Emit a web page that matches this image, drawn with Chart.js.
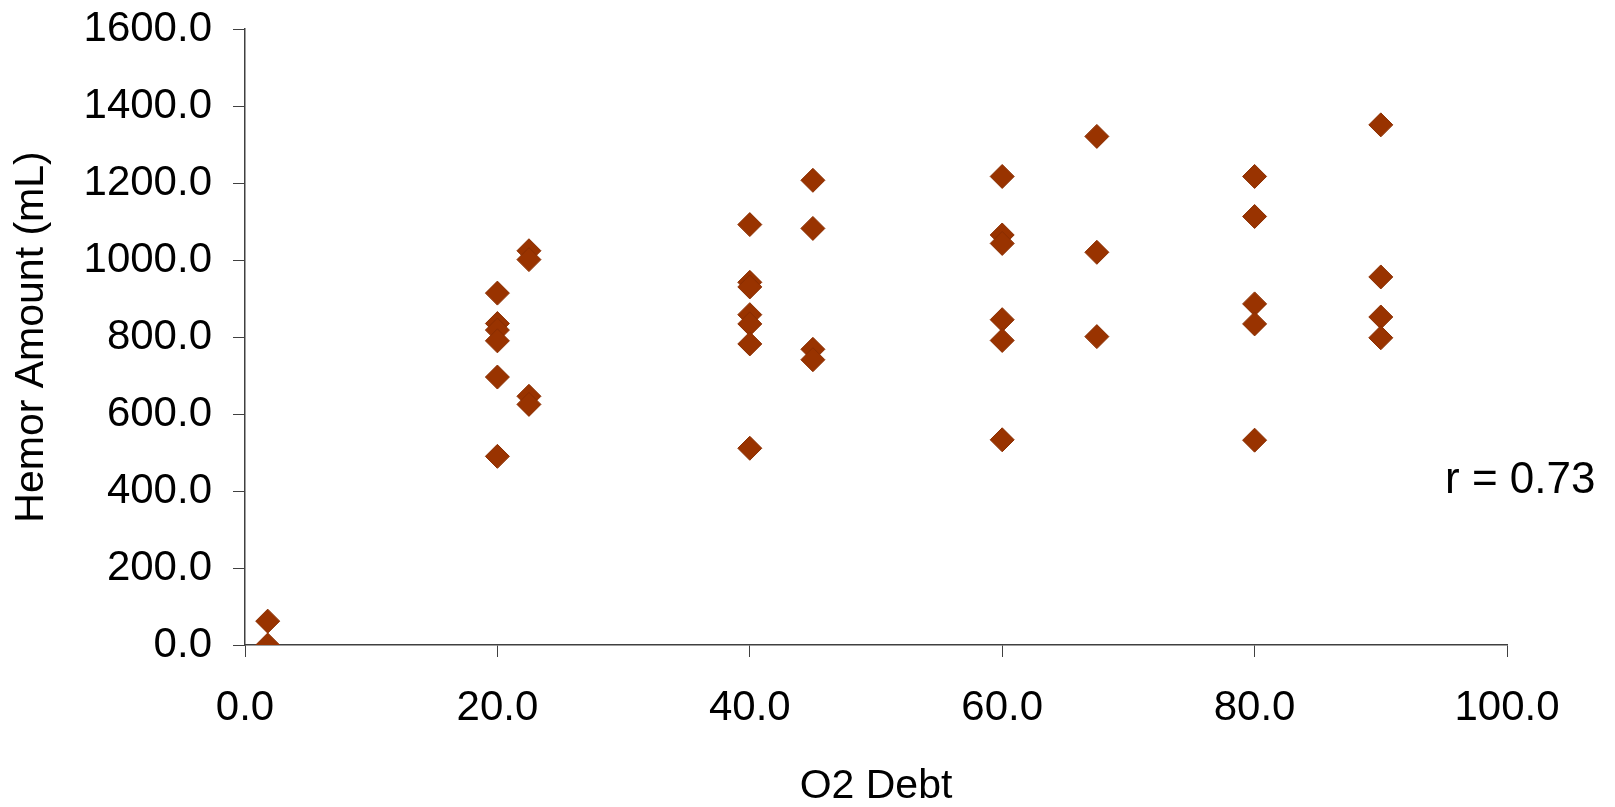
<!DOCTYPE html>
<html>
<head>
<meta charset="utf-8">
<script src="https://cdn.jsdelivr.net/npm/chart.js@4.4.1/dist/chart.umd.min.js"></script>
<style>
  html, body { margin: 0; padding: 0; background: #ffffff; }
  #wrap { width: 1615px; height: 807px; position: relative; }
</style>
</head>
<body>
<div id="wrap"><canvas id="c" width="1615" height="807"></canvas></div>
<script>
// O2 Debt (x) values and matching Hemor Amount (mL) values
const o2Debt = [
  1.8, 1.8,
  20, 20, 20, 20, 20, 20,
  22.5, 22.5, 22.5, 22.5,
  40, 40, 40, 40, 40, 40, 40,
  45, 45, 45, 45,
  60, 60, 60, 60, 60, 60,
  67.5, 67.5, 67.5,
  80, 80, 80, 80, 80,
  90, 90, 90, 90
];
const hemorAmount = [
  62, 0,
  914, 835, 818, 790, 696, 490,
  1024, 1001, 646, 625,
  1092, 942, 930, 858, 834, 782, 511,
  1207, 1082, 768, 741,
  1217, 1065, 1043, 845, 791, 533,
  1321, 1020, 801,
  1217, 1113, 886, 834, 532,
  1351, 956, 852, 798
];
const xTicks = [0, 20, 40, 60, 80, 100];
const yTicks = [0, 200, 400, 600, 800, 1000, 1200, 1400, 1600];
const xTitle = 'O2 Debt';
const yTitle = 'Hemor Amount (mL)';
const annotationText = 'r = 0.73';

const points = o2Debt.map((x, i) => ({ x: x, y: hemorAmount[i] }));

const FONT = "'Liberation Sans', Arial, Helvetica, sans-serif";
const AXIS_COLOR = '#404040';

const rLabel = {
  id: 'rLabel',
  afterDraw(chart) {
    const ctx = chart.ctx;
    ctx.save();
    ctx.font = "44px " + FONT;
    ctx.fillStyle = '#000000';
    ctx.textAlign = 'left';
    ctx.textBaseline = 'alphabetic';
    ctx.fillText(annotationText, 1445, 493);
    ctx.restore();
  }
};

new Chart(document.getElementById('c'), {
  type: 'scatter',
  data: {
    datasets: [{
      data: points,
      pointStyle: 'rectRot',
      pointRadius: 12,
      pointHoverRadius: 12,
      backgroundColor: '#993300',
      borderColor: '#8a2e00',
      borderWidth: 1
    }]
  },
  options: {
    responsive: false,
    animation: false,
    devicePixelRatio: 1,
    layout: { padding: { top: 29, right: 108, bottom: 0, left: 0 } },
    plugins: {
      legend: { display: false },
      tooltip: { enabled: false }
    },
    scales: {
      x: {
        type: 'linear',
        min: 0, max: 100,
        afterBuildTicks(scale) { scale.ticks = xTicks.map(v => ({ value: v })); },
        afterFit(scale) { scale.height = 162; },
        border: { display: true, color: AXIS_COLOR, width: 1.5 },
        grid: { display: true, drawOnChartArea: false, drawTicks: true, tickLength: 12, color: AXIS_COLOR, lineWidth: 1 },
        ticks: {
          color: '#000000',
          font: { family: FONT, size: 42 },
          padding: 26,
          maxRotation: 0,
          callback: v => Number(v).toFixed(1)
        },
        title: {
          display: true,
          text: xTitle,
          color: '#000000',
          font: { family: FONT, size: 41, lineHeight: 1 },
          padding: { top: 0, bottom: 0 }
        }
      },
      y: {
        type: 'linear',
        min: 0, max: 1600,
        afterBuildTicks(scale) { scale.ticks = yTicks.map(v => ({ value: v })); },
        afterFit(scale) { scale.width = 245; scale.paddingTop = 0; scale.paddingBottom = 0; },
        border: { display: true, color: AXIS_COLOR, width: 1.5 },
        grid: { display: true, drawOnChartArea: false, drawTicks: true, tickLength: 12, color: AXIS_COLOR, lineWidth: 1 },
        ticks: {
          color: '#000000',
          font: { family: FONT, size: 42 },
          padding: 21,
          callback: v => Number(v).toFixed(1)
        },
        title: {
          display: true,
          text: yTitle,
          color: '#000000',
          font: { family: FONT, size: 41, lineHeight: 1 },
          padding: { top: 11, bottom: 0 }
        }
      }
    }
  },
  plugins: [rLabel]
});
</script>
</body>
</html>
